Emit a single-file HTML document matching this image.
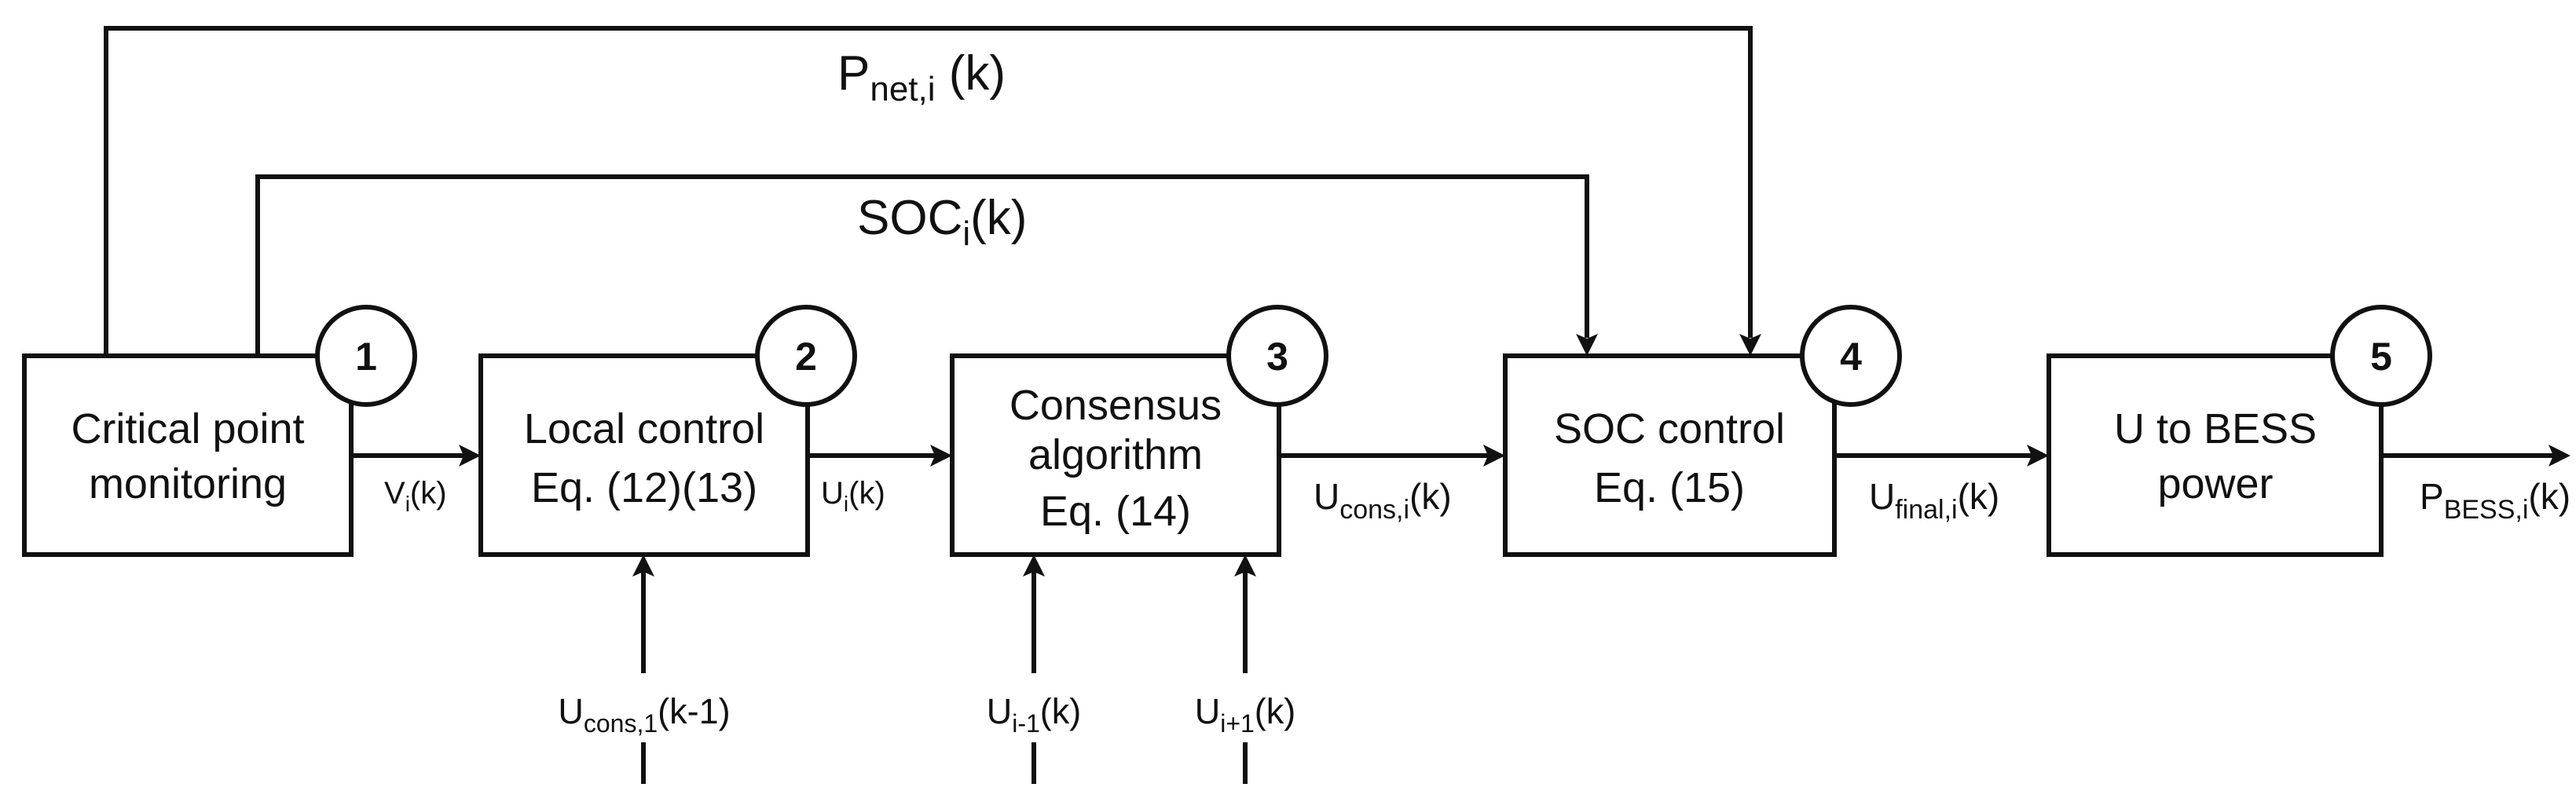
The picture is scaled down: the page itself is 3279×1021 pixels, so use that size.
<!DOCTYPE html>
<html><head><meta charset="utf-8"><style>
html,body{margin:0;padding:0;background:#fff;}
svg{display:block;}
text{font-family:"Liberation Sans",sans-serif;fill:#111;}
</style></head><body>
<svg width="3279" height="1021" viewBox="0 0 3279 1021" xmlns="http://www.w3.org/2000/svg">
<g stroke="#111" stroke-width="6" fill="none">
<polyline points="135,453 135,36 2228,36 2228,430"/>
<polyline points="328,453 328,225 2020,225 2020,430"/>
<rect x="31" y="453" width="416" height="253" fill="#fff"/>
<rect x="612" y="453" width="416" height="253" fill="#fff"/>
<rect x="1212" y="453" width="416" height="253" fill="#fff"/>
<rect x="1916" y="453" width="419" height="253" fill="#fff"/>
<rect x="2608" y="453" width="423" height="253" fill="#fff"/>
<line x1="447" y1="580" x2="590" y2="580"/>
<line x1="1028" y1="580" x2="1190" y2="580"/>
<line x1="1628" y1="580" x2="1894" y2="580"/>
<line x1="2335" y1="580" x2="2586" y2="580"/>
<line x1="3031" y1="580" x2="3250" y2="580"/>
<line x1="819" y1="857" x2="819" y2="728"/>
<line x1="1316" y1="857" x2="1316" y2="728"/>
<line x1="1585" y1="857" x2="1585" y2="728"/>
<line x1="819" y1="945" x2="819" y2="998"/>
<line x1="1316" y1="945" x2="1316" y2="998"/>
<line x1="1585" y1="945" x2="1585" y2="998"/>
<circle cx="466" cy="453" r="62" fill="#fff"/>
<circle cx="1026" cy="453" r="62" fill="#fff"/>
<circle cx="1626" cy="453" r="62" fill="#fff"/>
<circle cx="2356" cy="453" r="62" fill="#fff"/>
<circle cx="3031" cy="453" r="62" fill="#fff"/>
</g>
<g fill="#111">
<polygon points="612,580 584,566 590,580 584,594"/>
<polygon points="1212,580 1184,566 1190,580 1184,594"/>
<polygon points="1916,580 1888,566 1894,580 1888,594"/>
<polygon points="2608,580 2580,566 2586,580 2580,594"/>
<polygon points="3272,580 3244,566 3250,580 3244,594"/>
<polygon points="2020,453 2006,425 2020,431 2034,425"/>
<polygon points="2228,453 2214,425 2228,431 2242,425"/>
<polygon points="819,706 805,734 819,728 833,734"/>
<polygon points="1316,706 1302,734 1316,728 1330,734"/>
<polygon points="1585,706 1571,734 1585,728 1599,734"/>
</g>
<g font-size="54" text-anchor="middle">
<text x="239" y="564">Critical point</text>
<text x="239" y="634">monitoring</text>
<text x="820" y="564">Local control</text>
<text x="820" y="639">Eq. (12)(13)</text>
<text x="1420" y="534">Consensus</text>
<text x="1420" y="597">algorithm</text>
<text x="1420" y="669">Eq. (14)</text>
<text x="2125" y="564">SOC control</text>
<text x="2125" y="639">Eq. (15)</text>
<text x="2820" y="564">U to BESS</text>
<text x="2820" y="634">power</text>
</g>
<g font-size="50" font-weight="bold" text-anchor="middle">
<text x="466" y="471">1</text>
<text x="1026" y="471">2</text>
<text x="1626" y="471">3</text>
<text x="2356" y="471">4</text>
<text x="3031" y="471">5</text>
</g>
<g font-size="62">
<text x="1066" y="114">P<tspan font-size="44" dy="14">net,i</tspan><tspan dy="-14"> (k)</tspan></text>
<text x="1091" y="298">SOC<tspan font-size="44" dy="14">i</tspan><tspan dy="-14">(k)</tspan></text>
</g>
<g font-size="40">
<text x="489" y="641">V<tspan font-size="28" dy="10">i</tspan><tspan dy="-10">(k)</tspan></text>
<text x="1045" y="641">U<tspan font-size="28" dy="10">i</tspan><tspan dy="-10">(k)</tspan></text>
<text x="1672" y="648" font-size="46">U<tspan font-size="34" dy="12">cons,i</tspan><tspan dy="-12">(k)</tspan></text>
<text x="2379" y="648" font-size="46">U<tspan font-size="34" dy="12">final,i</tspan><tspan dy="-12">(k)</tspan></text>
<text x="3080" y="648" font-size="46">P<tspan font-size="34" dy="12">BESS,i</tspan><tspan dy="-12">(k)</tspan></text>
<text x="820" y="921" text-anchor="middle" font-size="45">U<tspan font-size="32" dy="11">cons,1</tspan><tspan dy="-11">(k-1)</tspan></text>
<text x="1316" y="921" text-anchor="middle" font-size="45">U<tspan font-size="32" dy="11">i-1</tspan><tspan dy="-11">(k)</tspan></text>
<text x="1585" y="921" text-anchor="middle" font-size="45">U<tspan font-size="32" dy="11">i+1</tspan><tspan dy="-11">(k)</tspan></text>
</g>
</svg>
</body></html>
